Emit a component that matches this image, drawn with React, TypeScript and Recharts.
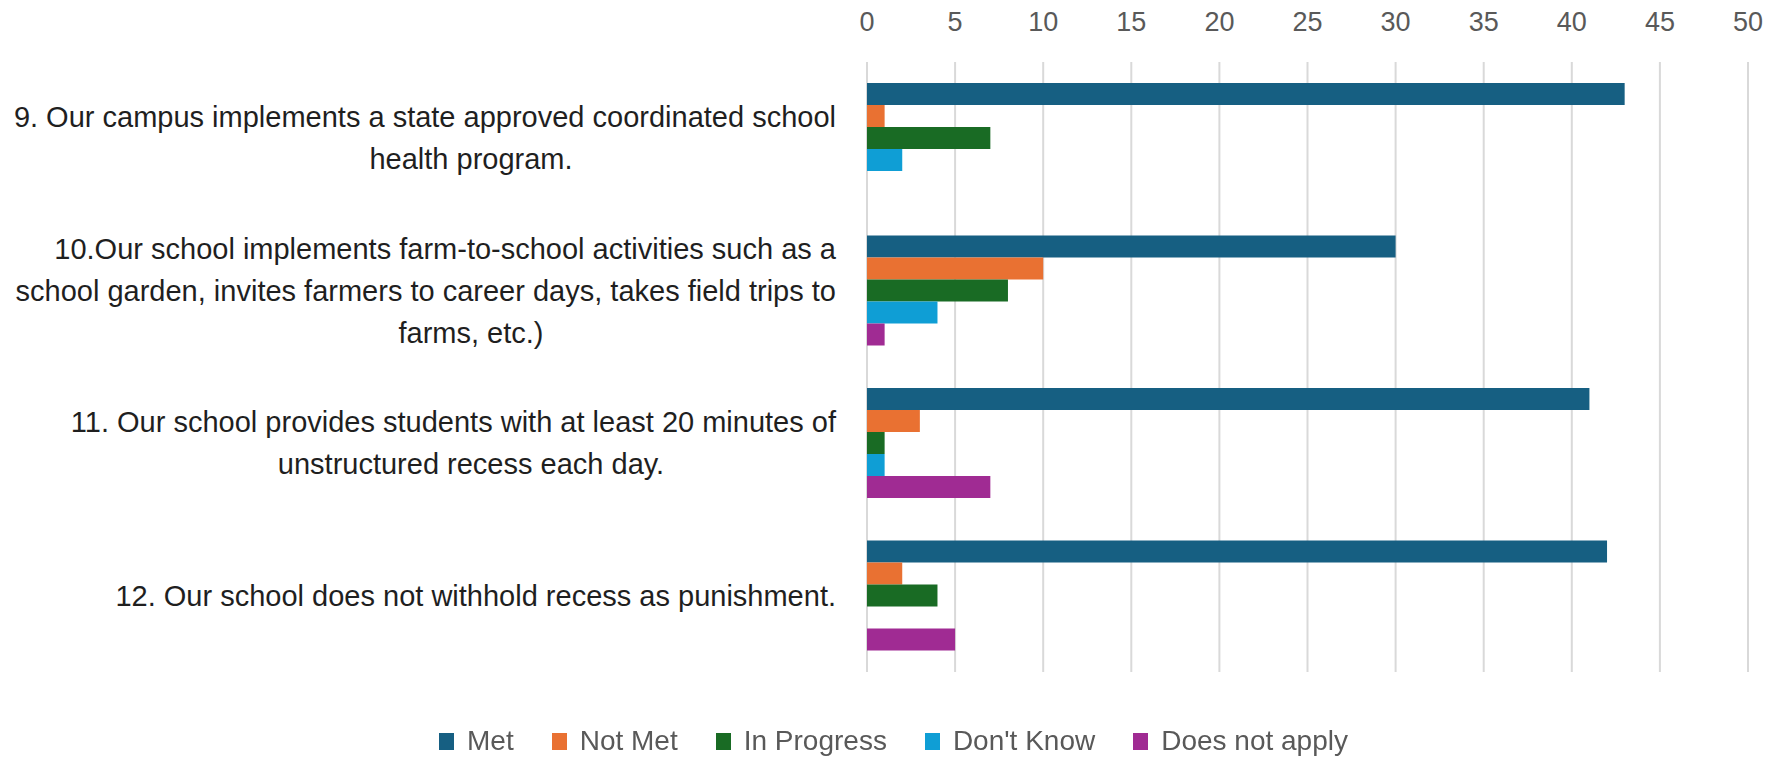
import React from "react";
import { BarChart, Bar, XAxis, YAxis, CartesianGrid, Legend } from "recharts";

const categories = ["Q9", "Q10", "Q11", "Q12"];
const categoryLabelLines: string[][] = [
  ["9. Our campus implements a state approved coordinated school", "health program."],
  [
    "10.Our school implements farm-to-school activities such as a",
    "school garden, invites farmers to career days, takes field trips to",
    "farms, etc.)",
  ],
  ["11. Our school provides students with at least 20 minutes of", "unstructured recess each day."],
  ["12. Our school does not withhold recess as punishment."],
];
const metValues = [43, 30, 41, 42];
const notMetValues = [1, 10, 3, 2];
const inProgressValues = [7, 8, 1, 4];
const dontKnowValues = [2, 4, 1, 0];
const doesNotApplyValues = [0, 1, 7, 5];
const xTicks = [0, 5, 10, 15, 20, 25, 30, 35, 40, 45, 50];

const seriesNames = ["Met", "Not Met", "In Progress", "Don't Know", "Does not apply"];
const seriesColors = ["#165F82", "#E97132", "#196B24", "#0F9ED5", "#A02B93"];

const data = categories.map((c, i) => ({
  cat: c,
  met: metValues[i],
  notMet: notMetValues[i],
  inProgress: inProgressValues[i],
  dontKnow: dontKnowValues[i],
  doesNotApply: doesNotApplyValues[i],
}));
const keys = ["met", "notMet", "inProgress", "dontKnow", "doesNotApply"];

const FONT = "'Liberation Sans', Arial, sans-serif";
const LINE_H = 42;
const LABEL_BLOCK = 730;

const YTick = (props: any) => {
  const { x, y, payload } = props;
  const idx = categories.indexOf(payload.value);
  const lines = categoryLabelLines[idx] || [];
  const n = lines.length;
  return (
    <g>
      {lines.map((ln, i) => {
        const isLast = n > 1 && i === n - 1;
        const ly = y + (i - (n - 1) / 2) * LINE_H;
        return (
          <text
            key={i}
            x={isLast ? x - LABEL_BLOCK / 2 : x}
            y={ly}
            dy="0.35em"
            textAnchor={isLast ? "middle" : "end"}
            fill="#1f1f1f"
            fontSize={29}
            fontFamily={FONT}
          >
            {ln}
          </text>
        );
      })}
    </g>
  );
};

const XTick = (props: any) => {
  const { x, y, payload } = props;
  return (
    <text x={x} y={y} textAnchor="middle" fill="#595959" fontSize={27} fontFamily={FONT}>
      {payload.value}
    </text>
  );
};

const LegendContent = (props: any) => {
  const payload = [...(props.payload || [])].sort(
    (a: any, b: any) => seriesNames.indexOf(a.value) - seriesNames.indexOf(b.value)
  );
  return (
    <div
      style={{
        display: "flex",
        justifyContent: "center",
        alignItems: "center",
        gap: 38,
        fontFamily: FONT,
        fontSize: 28,
        color: "#595959",
        paddingLeft: 14,
        height: 40,
      }}
    >
      {payload.map((p: any, i: number) => (
        <div key={i} style={{ display: "flex", alignItems: "center" }}>
          <span style={{ display: "inline-block", width: 15, height: 17, background: p.color, marginRight: 13 }} />
          <span>{p.value}</span>
        </div>
      ))}
    </div>
  );
};

export default function App() {
  return (
    <div style={{ position: "fixed", left: 0, top: 0, width: 1773, height: 758, background: "#fff" }}>
      <BarChart
        width={1773}
        height={758}
        data={data}
        layout="vertical"
        margin={{ top: 0, right: 25, bottom: 46, left: 0 }}
        barGap={0}
        barSize={22}
      >
        <CartesianGrid horizontal={false} vertical={true} stroke="#D9D9D9" strokeWidth={2} />
        <XAxis
          type="number"
          orientation="top"
          domain={[0, 50]}
          ticks={xTicks}
          interval={0}
          height={62}
          axisLine={false}
          tickLine={false}
          tickSize={0}
          tickMargin={31}
          tick={<XTick />}
        />
        <YAxis
          type="category"
          dataKey="cat"
          width={867}
          axisLine={false}
          tickLine={false}
          tickSize={0}
          tickMargin={31}
          interval={0}
          tick={<YTick />}
        />
        <Legend
          verticalAlign="bottom"
          content={<LegendContent />}
          wrapperStyle={{ top: 721, bottom: "auto", left: 0, width: 1773, height: 40 }}
        />
        {keys.map((k, i) => (
          <Bar key={k} dataKey={k} name={seriesNames[i]} fill={seriesColors[i]} isAnimationActive={false} />
        ))}
      </BarChart>
    </div>
  );
}
